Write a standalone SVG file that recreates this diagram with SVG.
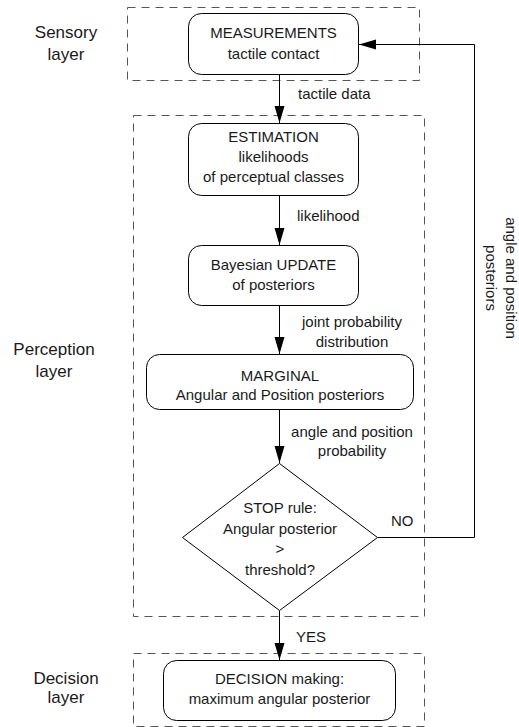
<svg xmlns="http://www.w3.org/2000/svg" width="519" height="727" viewBox="0 0 519 727">
<style>
text{font-family:"Liberation Sans",Arial,sans-serif;font-size:15px;fill:#1a1a1a}
.layer{font-size:17px;text-anchor:middle}
.c{text-anchor:middle}
.box{fill:#fff;stroke:#000;stroke-width:1}
.dash{fill:none;stroke:#555;stroke-width:1;stroke-dasharray:8,6}
.edge{fill:none;stroke:#000;stroke-width:1}
</style>
<defs>
<marker id="ah" markerUnits="userSpaceOnUse" markerWidth="18" markerHeight="12" refX="17" refY="5" orient="auto">
<path d="M0,0 L17,5 L0,10 Z" fill="#000"/>
</marker>
</defs>
<g id="layers">
<rect class="dash" x="127.5" y="7.5" width="292" height="73"/>
<rect class="dash" x="133.5" y="115.5" width="291" height="501"/>
<rect class="dash" x="133.5" y="653.5" width="291" height="73"/>
<text class="layer" x="66" y="38">Sensory</text>
<text class="layer" x="66" y="60">layer</text>
<text class="layer" x="54" y="355">Perception</text>
<text class="layer" x="54" y="377">layer</text>
<text class="layer" x="66" y="684">Decision</text>
<text class="layer" x="66" y="703">layer</text>
</g>
<g id="connectors">
<path class="edge" d="M279.5,74 V123" marker-end="url(#ah)"/>
<path class="edge" d="M279.5,196 V245" marker-end="url(#ah)"/>
<path class="edge" d="M279.5,306 V354" marker-end="url(#ah)"/>
<path class="edge" d="M279.5,410 V463" marker-end="url(#ah)"/>
<path class="edge" d="M279.5,611 V660" marker-end="url(#ah)"/>
<path class="edge" d="M377.5,537.5 H474.5 V44.5 H359" marker-end="url(#ah)"/>
<text x="298" y="99">tactile data</text>
<text x="297" y="221">likelihood</text>
<text class="c" x="352" y="326.5">joint probability</text>
<text class="c" x="352" y="347">distribution</text>
<text class="c" x="352" y="436.5">angle and position</text>
<text class="c" x="352" y="456">probability</text>
<text x="391" y="526">NO</text>
<text x="296" y="642">YES</text>
<g transform="translate(505.5,278) rotate(90)">
<text class="c" x="0" y="0">angle and position</text>
<text class="c" x="0" y="20">posteriors</text>
</g>
</g>
<g id="measurements">
<rect class="box" x="188.5" y="13.5" width="170" height="61" rx="13"/>
<text class="c" x="273.5" y="38">MEASUREMENTS</text>
<text class="c" x="273.5" y="59">tactile contact</text>
</g>
<g id="estimation">
<rect class="box" x="188.5" y="123.5" width="170" height="72" rx="13"/>
<text class="c" x="273.5" y="142">ESTIMATION</text>
<text class="c" x="273.5" y="162">likelihoods</text>
<text class="c" x="273.5" y="182">of perceptual classes</text>
</g>
<g id="update">
<rect class="box" x="188.5" y="245.5" width="170" height="60" rx="13"/>
<text class="c" x="273.5" y="269.5">Bayesian UPDATE</text>
<text class="c" x="273.5" y="289.5">of posteriors</text>
</g>
<g id="marginal">
<rect class="box" x="146.5" y="354.5" width="267" height="55" rx="13"/>
<text class="c" x="280" y="380.5">MARGINAL</text>
<text class="c" x="280" y="399.5">Angular and Position posteriors</text>
</g>
<g id="stop">
<polygon class="box" points="279.5,463.5 377.5,537.5 279.5,610.5 182.5,537.5"/>
<text class="c" x="280" y="513">STOP rule:</text>
<text class="c" x="280" y="533.5">Angular posterior</text>
<text class="c" x="280" y="554">&gt;</text>
<text class="c" x="280" y="574.5">threshold?</text>
</g>
<g id="decision">
<rect class="box" x="163.5" y="660.5" width="232" height="60" rx="13"/>
<text class="c" x="279.5" y="684">DECISION making:</text>
<text class="c" x="279.5" y="704">maximum angular posterior</text>
</g>
</svg>
